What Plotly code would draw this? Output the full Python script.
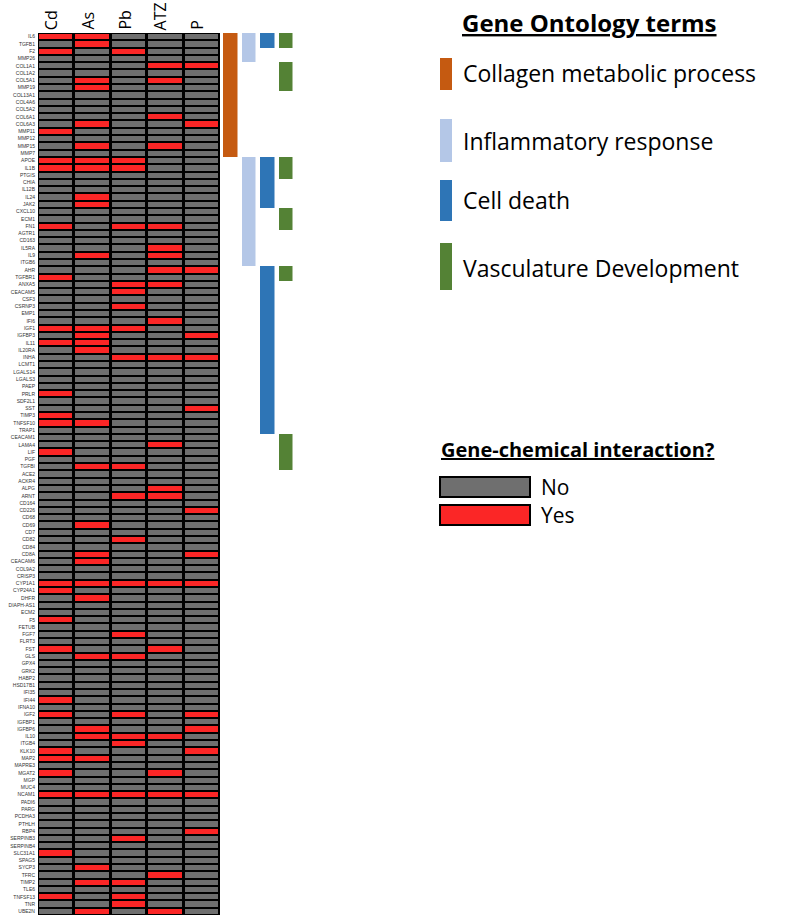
import plotly.graph_objects as go

chemicals = ["Cd", "As", "Pb", "ATZ", "P"]

genes = ["IL6","TGFB1","F2","MMP26","COL1A1","COL1A2","COL5A1","MMP19","COL13A1","COL4A6",
         "COL5A2","COL6A1","COL6A3","MMP11","MMP12","MMP15","MMP7","APOE","IL1B","PTGIS",
         "CHIA","IL12B","IL24","JAK2","CXCL10","ECM1","FN1","AGTR1","CD163","IL5RA",
         "IL9","ITGB6","AHR","TGFBR1","ANXA5","CEACAM5","CSF3","CSRNP3","EMP1","IFI6",
         "IGF1","IGFBP3","IL11","IL20RA","INHA","LCMT1","LGALS14","LGALS3","PAEP","PRLR",
         "SDF2L1","SST","TIMP3","TNFSF10","TRAP1","CEACAM1","LAMA4","LIF","PGF","TGFBI",
         "ACE2","ACKR4","ALPG","ARNT","CD164","CD226","CD68","CD69","CD7","CD82",
         "CD84","CD8A","CEACAM6","COL9A2","CRISP3","CYP1A1","CYP24A1","DHFR","DIAPH-AS1","ECM2",
         "F5","FETUB","FGF7","FLRT3","FST","GLS","GPX4","GRK2","HABP2","HSD17B1",
         "IFI35","IFI44","IFNA10","IGF2","IGFBP1","IGFBP6","IL10","ITGB4","KLK10","MAP2",
         "MAPRE3","MGAT2","MGP","MUC4","NCAM1","PADI6","PARG","PCDHA3","PTHLH","RBP4",
         "SERPINB3","SERPINB4","SLC31A1","SPAG5","SYCP3","TFRC","TIMP2","TLE6","TNFSF13","TNR",
         "UBE2N"]

# genes with a gene-chemical interaction, per chemical
cd_hits = ["IL6","F2","MMP11","APOE","IL1B","FN1","TGFBR1","IGF1","IL11","PRLR","TIMP3","TNFSF10",
           "LIF","CYP1A1","CYP24A1","F5","FST","IFI44","IGF2","KLK10","MAP2","MGAT2","NCAM1",
           "SLC31A1","TNFSF13"]
as_hits = ["IL6","TGFB1","COL5A1","MMP19","COL6A3","MMP15","APOE","IL1B","IL24","JAK2","IL9",
           "IGF1","IGFBP3","IL11","IL20RA","TNFSF10","TGFBI","CD69","CD8A","CEACAM6","CYP1A1",
           "DHFR","GLS","IGFBP6","IL10","MAP2","NCAM1","SYCP3","TIMP2","UBE2N"]
pb_hits = ["F2","APOE","IL1B","FN1","ANXA5","CEACAM5","CSRNP3","IGF1","INHA","TGFBI","ARNT",
           "CD82","CYP1A1","FGF7","GLS","IGF2","IL10","ITGB4","NCAM1","SERPINB3","TIMP2",
           "TNFSF13","TNR"]
atz_hits = ["COL1A1","COL5A1","COL6A1","MMP15","FN1","IL5RA","IL9","AHR","ANXA5","IFI6","INHA",
            "LAMA4","ALPG","ARNT","CYP1A1","FST","IL10","MGAT2","NCAM1","TFRC","UBE2N"]
p_hits = ["COL1A1","COL6A3","AHR","IGFBP3","INHA","SST","CD226","CD8A","CYP1A1","IGF2","IGFBP6",
          "KLK10","NCAM1","RBP4"]

go_terms = ["Collagen metabolic process", "Inflammatory response", "Cell death",
            "Vasculature Development"]
go_colors = ["#c55a11", "#b4c7e7", "#2e75b6", "#548235"]
collagen_genes = genes[0:17]
inflammatory_genes = genes[0:4] + genes[17:32]
cell_death_genes = genes[0:2] + genes[17:24] + genes[32:55]
vasculature_genes = (["IL6","TGFB1","COL1A1","COL1A2","COL5A1","MMP19","APOE","IL1B","PTGIS",
                      "CXCL10","ECM1","FN1","AHR","TGFBR1","CEACAM1","LAMA4","LIF","PGF","TGFBI"])
go_members = [collagen_genes, inflammatory_genes, cell_death_genes, vasculature_genes]

W, H = 800, 921
def px(x): return x / W
def py(y): return 1 - y / H

hits = [cd_hits, as_hits, pb_hits, atz_hits, p_hits]
z = [[1 if g in h else 0 for h in hits] for g in genes]

fig = go.Figure()
fig.add_trace(go.Heatmap(
    x=chemicals, y=genes, z=z, zmin=0, zmax=1,
    colorscale=[[0, "#6f6f6f"], [0.5, "#6f6f6f"], [0.5, "#fb2626"], [1, "#fb2626"]],
    showscale=False, xgap=3, ygap=2, hoverinfo="x+y+z",
    xaxis="x", yaxis="y"))

# GO membership: value = term index, blank if not a member
zgo = [[k if g in members else None for k, members in enumerate(go_members)] for g in genes]
n = len(go_terms)
go_scale = []
for k, col in enumerate(go_colors):
    go_scale.append([k / n, col])
    go_scale.append([(k + 1) / n, col])
fig.add_trace(go.Heatmap(
    x=go_terms, y=genes, z=zgo, zmin=-0.5, zmax=n - 0.5,
    colorscale=go_scale, showscale=False,
    xgap=4.5, ygap=0, hoverinfo="x+y", xaxis="x2", yaxis="y"))

y_top, y_bot = 33, 915
fig.update_layout(
    width=W, height=H, margin=dict(l=0, r=0, t=0, b=0, autoexpand=False),
    paper_bgcolor="white", plot_bgcolor="rgba(0,0,0,0)",
    showlegend=False,
    font=dict(family="Open Sans, Arial, sans-serif", color="black"),
    xaxis=dict(domain=[px(38), px(220)], visible=False, anchor="y", automargin=False),
    xaxis2=dict(domain=[px(221), px(295)], visible=False, anchor="y", automargin=False,
                categoryorder="array", categoryarray=go_terms),
    yaxis=dict(domain=[py(y_bot), py(y_top)], autorange="reversed",
               categoryorder="array", categoryarray=genes,
               tickmode="array", tickvals=genes, ticktext=genes,
               tickfont=dict(size=5, family="Liberation Sans, Arial", color="#333333"),
               ticks="", showgrid=False, zeroline=False, showline=False,
               ticklabelstandoff=2, anchor="x", automargin=False),
)

# black background behind interaction grid
fig.add_shape(type="rect", xref="x domain", yref="y domain", x0=0, x1=1, y0=0, y1=1,
              fillcolor="black", line=dict(width=0), layer="below")

# column headers
for c in chemicals:
    fig.add_annotation(x=c, xref="x", y=py(y_top - 1), yref="paper", text=c,
                       textangle=-90, showarrow=False, xanchor="center", yanchor="bottom",
                       xshift=-5, font=dict(size=16, color="black"))

# GO legend
fig.add_annotation(x=px(589), y=py(22), xref="paper", yref="paper",
                   text="<b><u>Gene Ontology terms</u></b>", showarrow=False,
                   xanchor="center", yanchor="middle", font=dict(size=24))
sw_y = [(58, 90), (119, 162), (180, 221), (243, 290)]
tx_y = [73, 141, 200, 268]
for (y0, y1), ty, term, col in zip(sw_y, tx_y, go_terms, go_colors):
    fig.add_shape(type="rect", xref="paper", yref="paper", x0=px(440), x1=px(452),
                  y0=py(y1), y1=py(y0), fillcolor=col, line=dict(width=0))
    fig.add_annotation(x=px(461), y=py(ty), xref="paper", yref="paper", text=term,
                       showarrow=False, xanchor="left", yanchor="middle", font=dict(size=23))

# interaction legend
fig.add_annotation(x=px(439), y=py(449), xref="paper", yref="paper",
                   text="<b><u>Gene-chemical interaction?</u></b>", showarrow=False,
                   xanchor="left", yanchor="middle", font=dict(size=20))
for (y0, y1), lab, col in [((477, 497), "No", "#6f6f6f"), ((505, 525), "Yes", "#fb2626")]:
    fig.add_shape(type="rect", xref="paper", yref="paper", x0=px(440), x1=px(530),
                  y0=py(y1), y1=py(y0), fillcolor=col, line=dict(color="black", width=2))
    fig.add_annotation(x=px(539), y=py((y0 + y1) / 2), xref="paper", yref="paper", text=lab,
                       showarrow=False, xanchor="left", yanchor="middle", font=dict(size=21))

fig.write_html("out.html", config={"displayModeBar": False},
               post_script="document.body.style.margin='0px';")
